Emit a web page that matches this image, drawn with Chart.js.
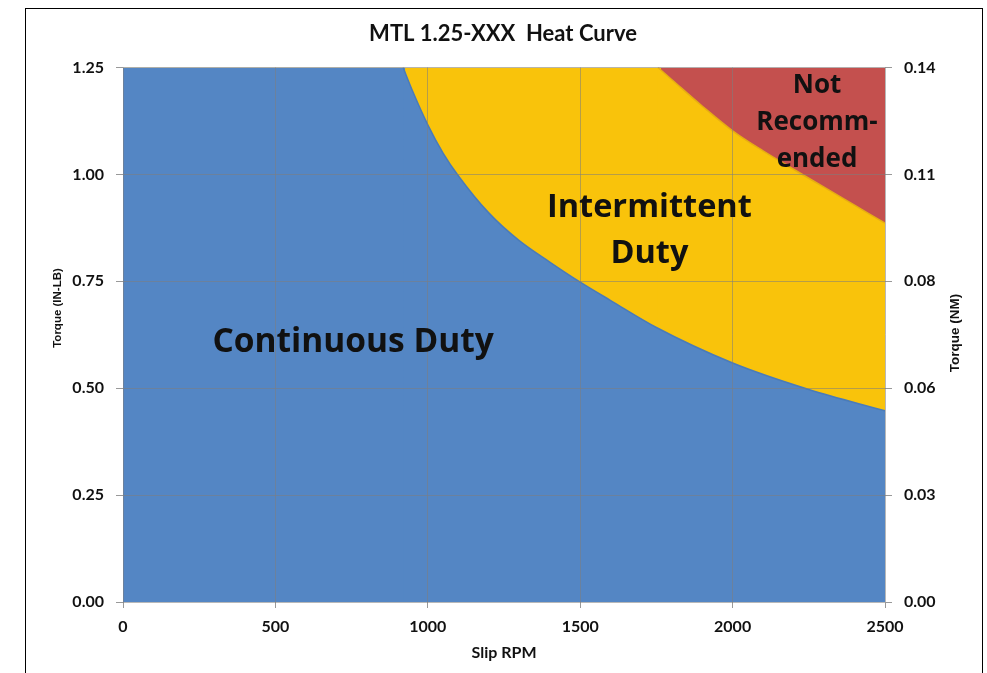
<!DOCTYPE html>
<html>
<head>
<meta charset="utf-8">
<script src="https://cdn.jsdelivr.net/npm/chart.js@4"></script>
<style>
  body { margin: 0; background: #fff; }
</style>
</head>
<body>
<canvas id="heatChart" width="987" height="673"></canvas>
<script>
// continuous duty boundary (IN-LB vs slip RPM); flat part is where it runs off the top
const rpmContinuousFlat = [0, 926];
const torqueContinuousFlat = [1.25, 1.25];
const rpmContinuous = [919, 950, 1000, 1050, 1100, 1200, 1300, 1400, 1500, 1600, 1750, 2000, 2250, 2500];
const torqueContinuous = [1.25, 1.195, 1.116, 1.05, 0.997, 0.91, 0.845, 0.795, 0.748, 0.705, 0.642, 0.559, 0.497, 0.447];

// intermittent duty boundary
const rpmIntermittentFlat = [0, 1765];
const torqueIntermittentFlat = [1.25, 1.25];
const rpmIntermittent = [1755, 1800, 1900, 2000, 2100, 2200, 2300, 2400, 2500];
const torqueIntermittent = [1.25, 1.222, 1.16, 1.102, 1.055, 1.012, 0.97, 0.928, 0.886];

const rpmTicks = ['0', '500', '1000', '1500', '2000', '2500'];
const inLbTicks = ['0.00', '0.25', '0.50', '0.75', '1.00', '1.25'];
const nmTicks = ['0.00', '0.03', '0.06', '0.08', '0.11', '0.14'];

const zoneLabels = [
    { lines: ['Continuous Duty'], rpm: 755, torque: [0.585], size: 33.5 },
    { lines: ['Intermittent', 'Duty'], rpm: 1727, torque: [0.90, 0.793], size: 32.5 },
    { lines: ['Not', 'Recomm-', 'ended'], rpm: 2277, torque: [1.19, 1.104, 1.017], size: 26 }
];

const toPoints = (xs, ys) => xs.map((x, i) => ({ x: x, y: ys[i] }));

const blue = '#5486c4', yellow = '#f9c30b', red = '#c4504e';
const gridColor = 'rgba(125,125,125,0.55)';
const labelFont = { family: 'Lato', size: 16, weight: 'bold' };

const area = (label, xs, ys, fill, color, edge) => ({
    label: label,
    data: toPoints(xs, ys),
    fill: fill,
    backgroundColor: color,
    borderColor: edge || color,
    borderWidth: edge ? 1.5 : 0,
    pointRadius: 0,
    cubicInterpolationMode: 'monotone'
});

const chartFrame = {
    id: 'chartFrame',
    beforeDraw(chart) {
        const ctx = chart.ctx;
        ctx.save();
        ctx.fillStyle = '#fff';
        ctx.fillRect(0, 0, chart.width, chart.height);
        ctx.strokeStyle = '#000';
        ctx.lineWidth = 1;
        ctx.strokeRect(25.5, 8.5, 957, 700);
        ctx.restore();
    },
    afterDraw(chart) {
        const ctx = chart.ctx;
        const xs = chart.scales.x, ys = chart.scales.y;
        ctx.save();
        ctx.fillStyle = '#111';
        ctx.textAlign = 'center';
        ctx.textBaseline = 'alphabetic';
        zoneLabels.forEach(z => {
            ctx.font = 'bold ' + z.size + 'px "Open Sans"';
            z.lines.forEach((t, i) => {
                ctx.fillText(t, xs.getPixelForValue(z.rpm), ys.getPixelForValue(z.torque[i]));
            });
        });
        // vertical axis titles, both read bottom to top
        ctx.textBaseline = 'middle';
        [['Torque (IN-LB)', 58, 308, 11.5], ['Torque (NM)', 955, 333, 13.5]].forEach(([t, x, y, sz]) => {
            ctx.save();
            ctx.font = 'bold ' + sz + 'px "Liberation Sans"';
            ctx.translate(x, y);
            ctx.rotate(-Math.PI / 2);
            ctx.fillText(t, 0, 0);
            ctx.restore();
        });
        ctx.restore();
    }
};

new Chart(document.getElementById('heatChart'), {
    type: 'line',
    data: {
        datasets: [
            area('Continuous Duty', rpmContinuous, torqueContinuous, 'origin', blue, '#4a7bb9'),
            area('Continuous Duty (low slip)', rpmContinuousFlat, torqueContinuousFlat, 'origin', blue),
            area('Intermittent Duty', rpmIntermittent, torqueIntermittent, 'origin', yellow, '#e6ad12'),
            area('Intermittent Duty (low slip)', rpmIntermittentFlat, torqueIntermittentFlat, 'origin', yellow),
            area('Not Recommended', rpmIntermittent, torqueIntermittent, 'end', red)
        ]
    },
    options: {
        responsive: false,
        animation: false,
        layout: { padding: { left: 19, right: 0, top: 0, bottom: 0 } },
        plugins: {
            legend: { display: false },
            tooltip: { enabled: false },
            title: {
                display: true,
                text: 'MTL 1.25-XXX  Heat Curve',
                color: '#111',
                font: { family: 'Lato', size: 22, weight: 'bold' },
                padding: { top: 20.5, bottom: 20.6 }
            }
        },
        scales: {
            x: {
                type: 'linear',
                min: 0,
                max: 2500,
                ticks: { stepSize: 500, color: '#111', font: labelFont, padding: 9,
                    callback: (v, i) => rpmTicks[i] },
                grid: { color: gridColor, tickLength: 6, tickColor: '#999', z: 1 },
                border: { display: false },
                title: {
                    display: true,
                    text: 'Slip RPM',
                    color: '#111',
                    font: { family: 'Lato', size: 16, weight: 'bold' },
                    padding: { top: 0, bottom: 10.5 }
                },
                afterFit(s) { s.height = 71; }
            },
            y: {
                position: 'left',
                min: 0,
                max: 1.25,
                ticks: { stepSize: 0.25, color: '#111', font: labelFont, padding: 12,
                    callback: (v, i) => inLbTicks[i] },
                grid: { color: gridColor, tickLength: 7, tickColor: '#999', z: 1 },
                border: { display: false },
                afterFit(s) { s.width = 104; }
            },
            y2: {
                position: 'right',
                min: 0,
                max: 1.25,
                ticks: { stepSize: 0.25, color: '#111', font: labelFont, padding: 12,
                    callback: (v, i) => nmTicks[i] },
                grid: { drawOnChartArea: false, tickLength: 7, tickColor: '#999' },
                border: { display: false },
                afterFit(s) { s.width = 102; }
            }
        }
    },
    plugins: [chartFrame]
});
</script>
</body>
</html>
